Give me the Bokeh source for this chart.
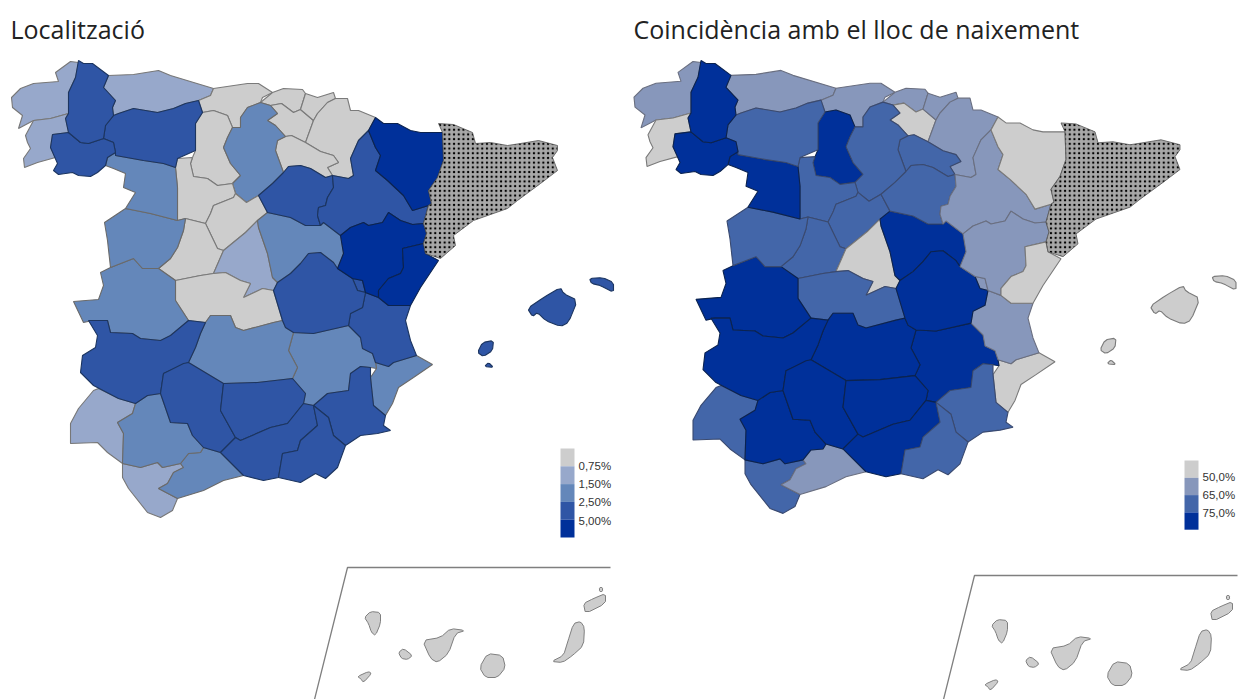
from bokeh.plotting import figure
from bokeh.embed import file_html
from bokeh.resources import INLINE
from bokeh.core.properties import value

# Province outlines (left map, page pixels)
CORUNA = [(11,97),(20,88),(33,83),(58,81),(55,72),(70,61),(78,62),(75,77),(68,92),(68,113),(50,118),(33,120),(18,128),(22,115),(12,107)]
LUGO = [(78,60),(83,63),(92,63),(108,75),(103,87),(115,100),(112,107),(113,115),(105,125),(103,138),(88,143),(80,142),(68,132),(65,118),(68,113),(68,92),(75,77)]
PONTEVEDRA = [(68,113),(65,118),(68,132),(52,134),(50,147),(55,157),(37,162),(24,167),(23,158),(30,148),(27,142),(25,135),(33,120),(50,118)]
OURENSE = [(52,134),(68,132),(80,142),(88,143),(103,138),(113,142),(115,152),(107,157),(105,165),(97,172),(90,176),(78,175),(72,172),(58,174),(53,170),(57,163),(50,147)]
ASTURIAS = [(108,75),(133,74),(158,70),(170,75),(213,88),(210,95),(198,100),(185,103),(173,108),(157,112),(133,108),(118,113),(113,115),(112,107),(115,100),(103,87)]
LEON = [(113,115),(118,113),(133,108),(157,112),(173,108),(185,103),(198,100),(202,112),(195,123),(195,150),(177,158),(175,167),(163,163),(143,160),(115,155),(115,152),(113,142),(103,138),(105,125)]
CANTABRIA = [(213,88),(247,83),(258,83),(272,92),(262,97),(260,102),(247,107),(240,117),(240,127),(232,127),(227,115),(213,110),(202,112),(198,100),(210,95)]
PALENCIA = [(202,112),(213,110),(227,115),(232,127),(227,137),(223,147),(230,163),(240,175),(232,183),(217,185),(207,178),(193,176),(190,163),(192,157),(195,150),(195,123)]
BURGOS = [(240,127),(240,117),(247,107),(260,102),(270,105),(277,113),(267,120),(275,125),(285,136),(277,140),(275,150),(283,172),(272,183),(258,195),(246,202),(235,193),(232,183),(240,175),(230,163),(223,147),(227,137),(232,127)]
VIZCAYA = [(260,102),(272,92),(283,88),(302,89),(305,93),(300,109),(293,112),(281,103),(270,105)]
ALAVA = [(270,105),(281,103),(293,112),(300,109),(313,120),(305,142),(291,135),(285,136),(275,125),(267,120),(277,113)]
GUIPUZCOA = [(305,93),(317,97),(333,92),(335,98),(327,102),(317,113),(313,120),(300,109)]
NAVARRA = [(335,98),(347,98),(350,110),(358,110),(375,117),(368,130),(358,140),(350,158),(353,175),(348,178),(332,175),(327,167),(338,162),(333,155),(320,151),(305,142),(313,120),(317,113),(327,102)]
RIOJA = [(275,150),(277,140),(285,136),(291,135),(305,142),(320,151),(333,155),(338,162),(327,167),(332,175),(325,177),(310,168),(300,165),(288,166),(283,172)]
SORIA = [(283,172),(288,166),(300,165),(310,168),(325,177),(332,175),(333,187),(327,197),(325,205),(318,207),(317,215),(320,225),(305,225),(290,217),(267,212),(258,195),(272,183)]
ZARAGOZA = [(368,130),(375,147),(380,155),(375,170),(387,180),(403,195),(412,210),(428,205),(423,223),(412,224),(400,220),(388,212),(382,222),(368,225),(363,222),(350,227),(340,235),(323,222),(320,225),(317,215),(318,207),(325,205),(327,197),(333,187),(332,175),(348,178),(353,175),(350,158),(358,140)]
HUESCA = [(375,117),(383,123),(397,123),(410,130),(420,132),(442,132),(443,160),(437,177),(428,190),(431,203),(428,205),(412,210),(403,195),(387,180),(375,170),(380,155),(375,147),(368,130)]
CATALUNYA = [(438,123),(453,124),(472,132),(475,143),(490,142),(507,145),(520,143),(538,140),(557,145),(557,150),(552,157),(557,170),(540,183),(517,200),(507,208),(473,220),(453,235),(455,245),(440,258),(425,253),(423,243),(426,233),(423,223),(428,205),(431,203),(428,190),(437,177),(443,160),(442,132)]
TERUEL = [(340,235),(350,227),(363,222),(368,225),(382,222),(388,212),(400,220),(412,224),(423,223),(426,233),(423,243),(402,248),(403,267),(400,273),(388,278),(378,290),(378,297),(365,292),(362,280),(352,278),(337,268),(343,253)]
CASTELLON = [(402,248),(423,243),(425,253),(438,260),(420,287),(410,305),(388,305),(378,297),(378,290),(388,278),(400,273),(403,267)]
VALENCIA = [(365,292),(378,297),(388,305),(410,305),(405,320),(410,340),(416,355),(393,362),(388,366),(375,362),(372,353),(362,348),(360,337),(348,325),(350,313),(362,307)]
ADEMUZ = [(352,278),(362,280),(365,292),(357,290)]
ALICANTE = [(416,355),(432,364),(413,377),(398,387),(392,403),(385,415),(373,405),(370,377),(376,368),(375,362),(388,366),(393,362)]
MURCIA = [(370,367),(370,377),(373,405),(385,415),(383,425),(390,430),(377,433),(360,435),(345,445),(333,435),(328,417),(313,405),(327,393),(348,390),(350,373),(360,366)]
ALBACETE = [(293,332),(313,333),(348,325),(360,337),(362,348),(372,353),(375,362),(376,368),(370,367),(360,366),(350,373),(348,390),(327,393),(313,405),(303,403),(305,393),(292,378),(297,367),(288,350)]
CUENCA = [(273,290),(277,282),(290,273),(300,263),(308,253),(320,252),(333,262),(337,268),(352,278),(357,290),(365,292),(362,307),(350,313),(348,325),(313,333),(293,332),(285,327),(282,320)]
GUADALAJARA = [(267,212),(290,217),(305,225),(320,225),(323,222),(340,235),(343,253),(337,268),(333,262),(320,252),(308,253),(300,263),(290,273),(277,282),(272,277),(267,253),(258,227),(257,220)]
MADRID = [(257,220),(258,227),(267,253),(272,277),(277,282),(273,290),(262,288),(243,297),(250,283),(240,280),(225,272),(213,273),(223,250),(245,232)]
SEGOVIA = [(258,195),(267,212),(257,220),(245,232),(223,250),(217,248),(205,223),(210,213),(213,205),(233,197),(235,193),(246,202)]
VALLADOLID = [(177,158),(192,157),(190,163),(193,176),(207,178),(217,185),(232,183),(235,193),(233,197),(213,205),(210,213),(205,223),(197,221),(185,218),(177,220),(177,187),(175,167)]
ZAMORA = [(105,165),(107,157),(115,152),(115,155),(143,160),(163,163),(175,167),(177,187),(177,220),(150,213),(125,208),(135,192),(123,187),(125,173),(113,168)]
SALAMANCA = [(125,208),(150,213),(177,220),(185,218),(183,230),(177,247),(170,258),(158,268),(142,268),(133,258),(110,267),(107,240),(104,222)]
AVILA = [(185,218),(197,221),(205,223),(217,248),(223,250),(213,273),(200,275),(175,280),(158,268),(170,258),(177,247),(183,230)]
CACERES = [(100,272),(110,267),(133,258),(142,268),(158,268),(175,280),(175,300),(188,320),(170,335),(160,340),(140,338),(132,333),(110,332),(107,320),(92,320),(83,322),(73,301),(98,299),(103,285)]
BADAJOZ = [(88,320),(107,320),(110,332),(132,333),(140,338),(160,340),(170,335),(188,320),(205,322),(200,333),(195,347),(188,362),(163,373),(160,393),(147,395),(135,403),(118,398),(93,385),(80,372),(82,355),(95,347),(97,335)]
HUELVA = [(98,388),(118,398),(135,403),(132,413),(117,422),(123,433),(122,463),(107,452),(97,442),(70,443),(70,423),(78,408),(93,390)]
SEVILLA = [(135,403),(147,395),(160,393),(170,422),(187,423),(192,435),(203,447),(200,452),(188,453),(180,463),(162,467),(157,462),(140,467),(122,463),(123,433),(117,422),(132,413)]
CORDOBA = [(160,393),(163,373),(183,363),(188,362),(223,383),(220,410),(235,437),(220,452),(203,447),(192,435),(187,423),(170,422)]
CIUDAD_REAL = [(205,322),(210,315),(230,315),(235,327),(243,330),(273,322),(282,320),(285,327),(293,332),(288,350),(297,367),(292,378),(257,382),(223,383),(188,362),(195,347),(200,333)]
JAEN = [(223,383),(257,382),(292,378),(305,393),(303,403),(287,423),(270,427),(240,440),(235,437),(220,410)]
GRANADA = [(235,437),(240,440),(270,427),(287,423),(303,403),(313,405),(317,425),(300,440),(297,450),(282,453),(278,477),(263,480),(243,475),(220,452)]
ALMERIA = [(313,405),(328,417),(333,435),(345,445),(337,467),(325,478),(315,473),(300,482),(278,477),(282,453),(297,450),(300,440),(317,425)]
MALAGA = [(180,463),(188,453),(200,452),(203,447),(220,452),(243,475),(223,480),(203,490),(177,498),(158,488),(167,483),(173,472),(183,467)]
CADIZ = [(122,463),(140,467),(157,462),(162,467),(180,463),(183,467),(173,472),(167,483),(158,488),(177,498),(172,510),(160,517),(147,512),(128,488),(122,477)]
TOLEDO = [(175,280),(200,275),(213,273),(225,272),(240,280),(250,283),(243,297),(262,288),(273,290),(282,320),(273,322),(243,330),(235,327),(230,315),(210,315),(205,322),(188,320),(175,300)]
MALLORCA = [(527,308),(543,297),(560,287),(563,293),(577,300),(568,322),(560,326),(545,320),(537,312),(532,316)]
MENORCA = [(589,278),(602,277),(613,282),(613,292),(600,285),(591,283)]
IBIZA = [(477,352),(482,342),(493,340),(492,350),(483,356)]
FORMENTERA = [(484,366),(488,362),(493,367)]
LA_PALMA = [(364,617),(370,611),(380,612),(380,623),(375,635),(371,632),(368,623)]
EL_HIERRO = [(357,676),(368,671),(371,673),(363,682),(360,678)]
LA_GOMERA = [(398,652),(403,648),(412,655),(407,659),(401,658)]
TENERIFE = [(422,640),(440,637),(450,628),(465,630),(455,633),(448,653),(437,662),(430,658)]
GRAN_CANARIA = [(479,667),(487,653),(502,655),(505,667),(497,677),(485,677)]
FUERTEVENTURA = [(551,661),(563,655),(567,642),(573,623),(580,621),(584,627),(583,645),(572,655),(562,662)]
LANZAROTE = [(583,603),(593,598),(605,593),(605,603),(585,613)]
GRACIOSA = [(599,587),(602,587),(602,591),(599,591)]
FRAME = [(314,699),(347,567),(610,567)]

PROVINCES = [CORUNA,PONTEVEDRA,ASTURIAS,CANTABRIA,VIZCAYA,ALAVA,GUIPUZCOA,NAVARRA,RIOJA,PALENCIA,BURGOS,VALLADOLID,SEGOVIA,AVILA,
             MADRID,TOLEDO,HUELVA,CADIZ,MALAGA,SEVILLA,ALICANTE,ALBACETE,CIUDAD_REAL,CACERES,SALAMANCA,ZAMORA,GUADALAJARA,
             LEON,SORIA,ZARAGOZA,VALENCIA,ADEMUZ,MURCIA,CUENCA,BADAJOZ,CORDOBA,JAEN,GRANADA,ALMERIA,OURENSE,LUGO,
             HUESCA,TERUEL,CASTELLON,MALLORCA,MENORCA,IBIZA,FORMENTERA]
# class index of every province, same order
CLASS_LEFT = [1,1,1,0,0,0,0,0,0,0,2,0,0,0,
              1,0,1,1,2,2,2,2,2,2,2,2,2,
              3,3,3,3,3,3,3,3,3,3,3,3,3,3,
              4,4,4,3,3,3,3]
CLASS_RIGHT = [1,0,1,1,1,0,1,1,2,3,2,2,2,2,
               0,2,2,2,1,3,0,3,3,3,2,3,3,
               2,2,1,1,1,2,3,3,3,3,3,2,3,3,
               0,1,0,0,0,0,0]
CANARIES = [LA_PALMA,EL_HIERRO,LA_GOMERA,TENERIFE,GRAN_CANARIA,FUERTEVENTURA,LANZAROTE,GRACIOSA]

PALETTE_LEFT = ["#CDCDCD","#97A8CB","#6487BA","#2F55A5","#00309A"]
PALETTE_RIGHT = ["#CDCDCD","#8797BB","#4366A9","#00309A"]
TICKS_LEFT = ["0,75%","1,50%","2,50%","5,00%"]
TICKS_RIGHT = ["50,0%","65,0%","75,0%"]
TITLE_LEFT = "Localització"
TITLE_RIGHT = "Coincidència amb el lloc de naixement"

OUT_LEFT = ["#7a7a7a","#777777","#6a6a6a","#1c3560","#0b2350"]
OUT_RIGHT = ["#7a7a7a","#6a6f80","#3a4a70","#0b2350"]

p = figure(width=1239, height=699, x_range=(0,1239), y_range=(699,0), output_backend="svg",
           toolbar_location=None, min_border=0, outline_line_color=None)
p.axis.visible = False
p.grid.visible = False

def smooth(q, rounds=1):
    # corner cutting, so that small islands get a rounded outline
    for _ in range(rounds):
        out = []
        for i in range(len(q)):
            a, b = q[i], q[(i+1) % len(q)]
            out.append((a[0]*.8+b[0]*.2, a[1]*.8+b[1]*.2))
            out.append((a[0]*.2+b[0]*.8, a[1]*.2+b[1]*.8))
        q = out
    return q

def draw_all(classes, palette, outlines, dx, sy, cdx, cdy):
    coast = [smooth(q) if q in (MALLORCA, MENORCA, IBIZA, FORMENTERA) else q for q in PROVINCES]
    p.patches([[x+dx for x,y in q] for q in coast], [[60+(y-60)*sy for x,y in q] for q in coast],
              fill_color=[palette[c] for c in classes], line_color=[outlines[c] for c in classes], line_width=1.1)
    xs = [x+dx for x,y in CATALUNYA]; ys=[60+(y-60)*sy for x,y in CATALUNYA]
    p.patch(xs, ys, fill_color="#a8a8a8", line_color="#555555", line_width=0.8,
            hatch_pattern="dot", hatch_color="#000000", hatch_scale=4.7, hatch_weight=4, hatch_alpha=1)
    isl = [smooth(q) for q in CANARIES]
    p.patches([[x+cdx for x,y in q] for q in isl], [[y+cdy for x,y in q] for q in isl],
              fill_color=palette[0], line_color="#7f7f7f", line_width=1)
    p.line([x+cdx for x,y in FRAME], [y+cdy for x,y in FRAME], line_color="#7f7f7f", line_width=1.3)

draw_all(CLASS_LEFT, PALETTE_LEFT, OUT_LEFT, 0, 1.0, 0, 0)
draw_all(CLASS_RIGHT, PALETTE_RIGHT, OUT_RIGHT, 622.5, 0.991, 627, 8)

def legend(x, y0, step, palette, ticks, tx, ty):
    n = len(palette)
    p.quad(left=[x]*n, right=[x+14]*n, top=[y0+i*step for i in range(n)], bottom=[y0+(i+1)*step for i in range(n)],
           fill_color=palette, line_color=None)
    p.text([tx]*len(ticks), ty, text=ticks, text_font=value("Liberation Sans"), text_font_size="11.5px",
           text_color="#333333", text_baseline="middle")

legend(560, 448, 17.8, PALETTE_LEFT, TICKS_LEFT, 578, [465,483,501,520])
legend(1184, 460, 17.3, PALETTE_RIGHT, TICKS_RIGHT, 1202, [476,494,512])

p.text([10,633], [28,28], text=[TITLE_LEFT,TITLE_RIGHT], text_font=value("Open Sans"), text_font_size="25px",
       text_color="#222222", text_baseline="middle")

open("out.html", "w").write(file_html(p, INLINE))
